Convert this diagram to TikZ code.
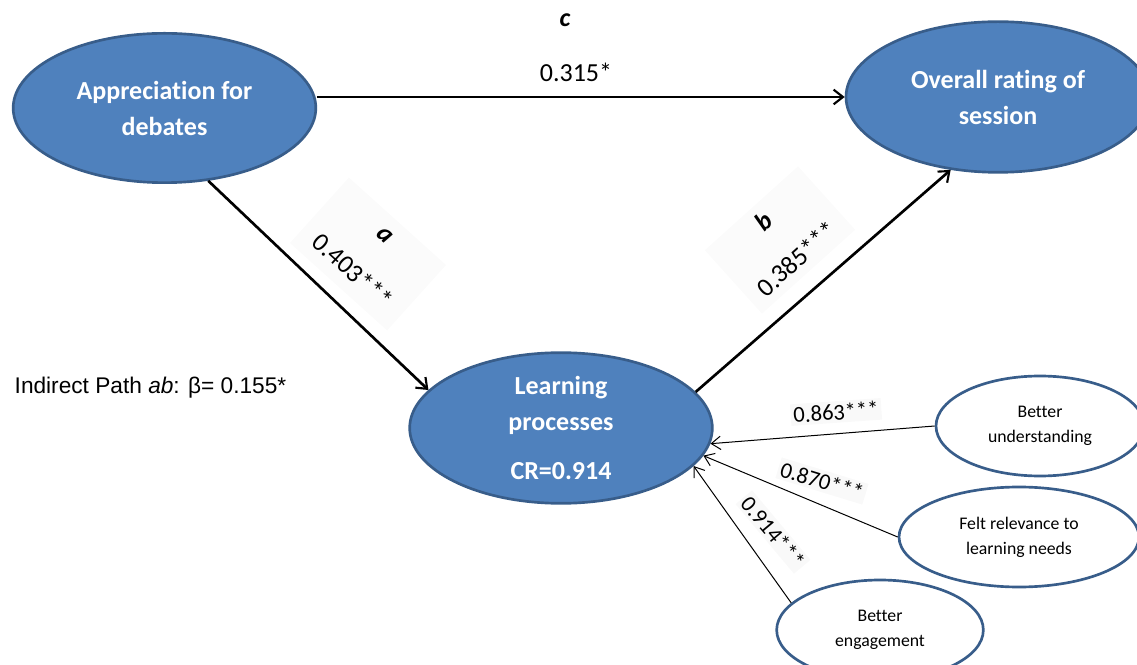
\documentclass[tikz,border=0pt]{standalone}
\usepackage{fontspec}
\setmainfont{Carlito}[Ligatures={NoCommon}]
\newfontfamily\arialfont{Liberation Sans}
\usetikzlibrary{shapes.geometric,arrows.meta}

\definecolor{nodeblue}{HTML}{4F81BD}
\definecolor{edgeblue}{HTML}{385D8A}

\tikzset{
  latent/.style={ellipse, draw=edgeblue, fill=nodeblue, line width=2pt, text=white, align=center, inner sep=0pt, font=\bfseries\fontsize{19.5}{27}\selectfont},
  indicator/.style={ellipse, draw=edgeblue, fill=white, line width=2pt, align=center, inner sep=0pt, minimum height=75pt, font=\fontsize{13.3}{18.8}\selectfont},
  pathline/.style={line width=2pt, -{Straight Barb[length=7pt,width=11pt,line width=1.6pt]}},
  loadline/.style={line width=0.75pt, -{Straight Barb[length=7pt,width=10pt,line width=0.75pt]}},
  coef/.style={fill=black!1.5, inner sep=3pt, align=center, font=\fontsize{19.5}{25.5}\selectfont},
  loadcoef/.style={fill=black!2.5, inner sep=2pt, font=\fontsize{17}{20}\selectfont}
}

\begin{document}
\begin{tikzpicture}[x=0.75pt,y=0.75pt]
\clip (0,0) rectangle (1137,664);

% latent constructs
\node[latent, minimum width=227pt, minimum height=112pt] (app) at (164.5,556) {Appreciation for\\debates};
\node[latent, minimum width=228pt, minimum height=113pt] (ovr) at (998,567) {Overall rating of\\session};
\node[latent, minimum width=227pt, minimum height=113pt] (lp) at (561,236) {Learning\\processes\\[10pt]CR=0.914};

% indicators of learning processes
\node[indicator, minimum width=156pt] (bu) at (1040,238) {Better\\understanding};
\node[indicator, minimum width=180pt] (fr) at (1019,127) {Felt relevance to\\learning needs};
\node[indicator, minimum width=155pt] (be) at (880,34) {Better\\engagement};

% path coefficients
\node[coef, rotate=-42, minimum width=98pt, minimum height=66pt] (alab) at (368,410) {\textbf{\textit{a}}\\[12pt]0.403***};
\node[coef, rotate=42, minimum width=94pt, minimum height=64pt] (blab) at (780,424) {\textbf{\textit{b}}\\[12pt]0.385***};
\node[font=\bfseries\itshape\fontsize{19.5}{25.5}\selectfont] (clab) at (565,644) {c};
\node[font=\fontsize{19.5}{25.5}\selectfont] (cval) at (576,592) {0.315*};

% loadings
\node[loadcoef, rotate=4] (l1) at (836,252) {0.863***};
\node[loadcoef, rotate=-17] (l2) at (822,183) {0.870***};
\node[loadcoef, rotate=-50] (l3) at (773,132) {0.914***};

\node[anchor=west, font=\arialfont\fontsize{17}{20}\selectfont] (indirect) at (10,276) {Indirect Path \textit{ab}: β= 0.155*};

% arrows
\draw[pathline] (app.east |- ovr.west) -- (ovr.west);
\draw[pathline] (app.-59.5) -- (lp.164);
\draw[pathline] (lp.15) -- (ovr.-123);
\draw[loadline] (bu.west) -- (lp.-6);
\draw[loadline] (fr.west) -- (lp.-11);
\draw[loadline] (be.163.5) -- (lp.-16);
\end{tikzpicture}
\end{document}
